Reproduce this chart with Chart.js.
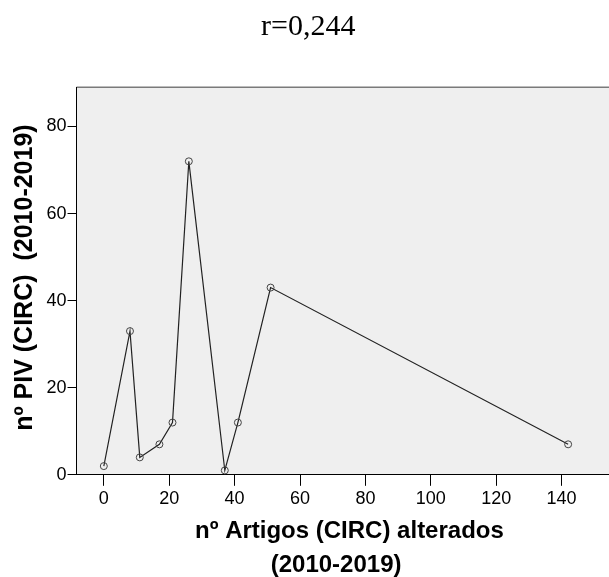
<!DOCTYPE html>
<html>
<head>
<meta charset="utf-8">
<script src="https://cdn.jsdelivr.net/npm/chart.js@4/dist/chart.umd.min.js"></script>
<style>
html,body{margin:0;padding:0;background:#fff;overflow:hidden;}
#wrap{width:609px;height:577px;overflow:hidden;}
#c{display:block;}
</style>
</head>
<body>
<div id="wrap"><canvas id="c" width="609" height="577"></canvas></div>
<script>
const chartTitle = " r=0,244";
const xValues = [0, 8, 11, 17, 21, 26, 37, 41, 51, 142];
const yValues = [2, 33, 4, 7, 12, 72, 1, 12, 43, 7];
const xTicks = [0, 20, 40, 60, 80, 100, 120, 140];
const yTicks = [0, 20, 40, 60, 80];
const xTitle = ["  nº Artigos (CIRC) alterados", "(2010-2019)  "];
const yTitle = " nº PIV (CIRC)  (2010-2019)";

const points = xValues.map((x, i) => ({x: x, y: yValues[i]}));

const bgPlugin = {
  id: 'plotBg',
  beforeDraw(chart) {
    const a = chart.chartArea, ctx = chart.ctx;
    ctx.save();
    ctx.fillStyle = '#efefef';
    ctx.fillRect(a.left, a.top, a.right - a.left, a.bottom - a.top);
    ctx.strokeStyle = '#7a7a7a';
    ctx.lineWidth = 1.5;
    ctx.beginPath();
    ctx.moveTo(a.left, a.top);
    ctx.lineTo(a.right, a.top);
    ctx.stroke();
    ctx.restore();
  }
};

const sans = "'Liberation Sans', Arial, sans-serif";

new Chart(document.getElementById('c'), {
  type: 'scatter',
  data: {
    datasets: [{
      data: points,
      showLine: true,
      borderColor: '#222',
      borderWidth: 1.2,
      pointRadius: 3.5,
      pointHoverRadius: 3.5,
      pointBorderColor: '#444',
      pointBackgroundColor: 'rgba(0,0,0,0)',
      pointBorderWidth: 1,
      tension: 0
    }]
  },
  plugins: [bgPlugin],
  options: {
    responsive: false,
    animation: false,
    devicePixelRatio: 1,
    layout: {autoPadding: false, padding: {left: 0, right: 0, top: 0, bottom: 0}},
    plugins: {
      legend: {display: false},
      tooltip: {enabled: false},
      title: {
        display: true,
        text: chartTitle,
        color: '#000',
        font: {family: "'Liberation Serif', 'Times New Roman', serif", size: 30, weight: 'normal', lineHeight: 1.2},
        padding: {top: 9, bottom: 42.3}
      }
    },
    scales: {
      x: {
        type: 'linear',
        min: -8.35,
        max: 154.5,
        afterBuildTicks(scale) { scale.ticks = xTicks.map(v => ({value: v})); },
        ticks: {
          color: '#000',
          font: {family: sans, size: 18},
          padding: 2.2,
          maxRotation: 0,
          autoSkip: false,
          callback: v => String(v)
        },
        grid: {drawOnChartArea: false, drawTicks: true, tickLength: 11, color: '#000', lineWidth: 1},
        border: {display: true, color: '#000', width: 1},
        title: {
          display: true,
          text: xTitle,
          color: '#000',
          font: {family: sans, size: 24, weight: 'bold', lineHeight: 33.5/24},
          padding: {top: 2.95, bottom: -4.75}
        }
      },
      y: {
        type: 'linear',
        min: 0,
        max: 89,
        afterBuildTicks(scale) { scale.ticks = yTicks.map(v => ({value: v})); },
        ticks: {
          color: '#000',
          font: {family: sans, size: 18},
          padding: 1,
          autoSkip: false,
          callback: v => String(v)
        },
        grid: {drawOnChartArea: false, drawTicks: true, tickLength: 9, color: '#000', lineWidth: 1},
        border: {display: true, color: '#000', width: 1},
        title: {
          display: true,
          text: yTitle,
          color: '#000',
          font: {family: sans, size: 25, weight: 'bold', lineHeight: 1.0},
          padding: {top: 13, bottom: 7.5}
        }
      }
    }
  }
});
</script>
</body>
</html>
